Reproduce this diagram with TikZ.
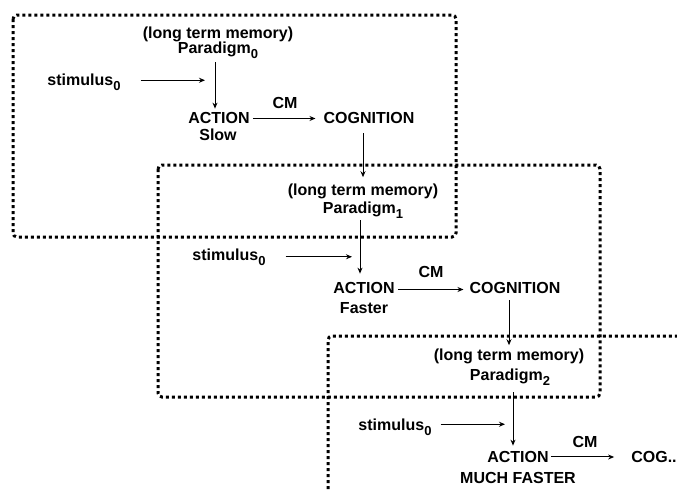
\documentclass[tikz,border=0pt]{standalone}
\usepackage{fontspec}
\setmainfont{Liberation Sans}
\usetikzlibrary{arrows.meta}
\newcommand{\ix}[1]{\raisebox{-5pt}{\fontsize{13}{13}\selectfont #1}}
\tikzset{
  lbl/.style={font=\bfseries\fontsize{16}{16}\selectfont, inner sep=1pt, anchor=base},
  arr/.style={-{Stealth[length=6pt,width=5pt]}, line width=1pt},
  frame/.style={line width=3pt, dash pattern=on 3pt off 3pt, rounded corners=4pt}
}
\begin{document}
\begin{tikzpicture}[x=1pt,y=-1pt]
\useasboundingbox (0,0) rectangle (677,490);
\fill[white] (0,0) rectangle (677,490);
% frames
\draw[frame] (13,15) rectangle (456,237);
\draw[frame] (158,165) rectangle (600,397);
\draw[frame] (328,495) -- (328,336) -- (690,336);
% stage 0
\node[lbl] (ltm0) at (218,38) {(long term memory)};
\node[lbl] (par0) at (218,53) {Paradigm\ix{0}};
\node[lbl] (stim0) at (84,85) {stimulus\ix{0}};
\node[lbl] (act0) at (219,123) {ACTION};
\node[lbl] (slow0) at (218,140) {Slow};
\node[lbl] (cm0) at (285,108) {CM};
\node[lbl] (cog0) at (369,123) {COGNITION};
% stage 1
\node[lbl] (ltm1) at (363,195) {(long term memory)};
\node[lbl] (par1) at (363,213) {Paradigm\ix{1}};
\node[lbl] (stim1) at (229,260) {stimulus\ix{0}};
\node[lbl] (act1) at (364,293) {ACTION};
\node[lbl] (fast1) at (364,313) {Faster};
\node[lbl] (cm1) at (431,277) {CM};
\node[lbl] (cog1) at (515,293) {COGNITION};
% stage 2
\node[lbl] (ltm2) at (509,360) {(long term memory)};
\node[lbl] (par2) at (510,380) {Paradigm\ix{2}};
\node[lbl] (stim2) at (395,430) {stimulus\ix{0}};
\node[lbl] (act2) at (518,462) {ACTION};
\node[lbl] (much2) at (518,483) {MUCH FASTER};
\node[lbl] (cm2) at (585,447) {CM};
\node[lbl] (cog2) at (654,462) {COG..};
% arrows stage 0
\draw[arr, shorten <=3pt, shorten >=2pt] ([xshift=-3pt]par0.south) -- ([xshift=-3pt]par0.south |- act0.north);
\draw[arr, shorten <=19pt] ([yshift=1.5pt]stim0.east) -- ([xshift=-13pt,yshift=1.5pt]par0.south |- stim0.east);
\draw[arr, shorten <=2pt, shorten >=7pt] ([yshift=-1pt]act0.east) -- ([yshift=-1pt]cog0.west);
\draw[arr, shorten <=9pt, shorten >=5pt] (ltm1.north |- cog0.south) -- (ltm1.north);
% arrows stage 1
\draw[arr, shorten <=1pt, shorten >=7pt] ([xshift=-3pt]par1.south) -- ([xshift=-3pt]par1.south |- act1.north);
\draw[arr, shorten <=19pt] (stim1.east) -- ([xshift=-11pt]par1.south |- stim1.east);
\draw[arr, shorten <=2pt, shorten >=5pt] ([yshift=-2pt]act1.east) -- ([yshift=-2pt]cog1.west);
\draw[arr, shorten <=6pt, shorten >=2pt] ([xshift=-6pt]cog1.south) -- ([xshift=-6pt]cog1.south |- ltm2.north);
% arrows stage 2
\draw[arr, shorten <=6pt, shorten >=4pt] ([xshift=3pt]par2.south) -- ([xshift=3pt]par2.south |- act2.north);
\draw[arr, shorten <=8pt] ([yshift=2.5pt]stim2.east) -- ([xshift=-5pt,yshift=2.5pt]par2.south |- stim2.east);
\draw[arr, shorten <=1pt, shorten >=16pt] ([yshift=-0.5pt]act2.east) -- ([yshift=-0.5pt]cog2.west);
\end{tikzpicture}
\end{document}
